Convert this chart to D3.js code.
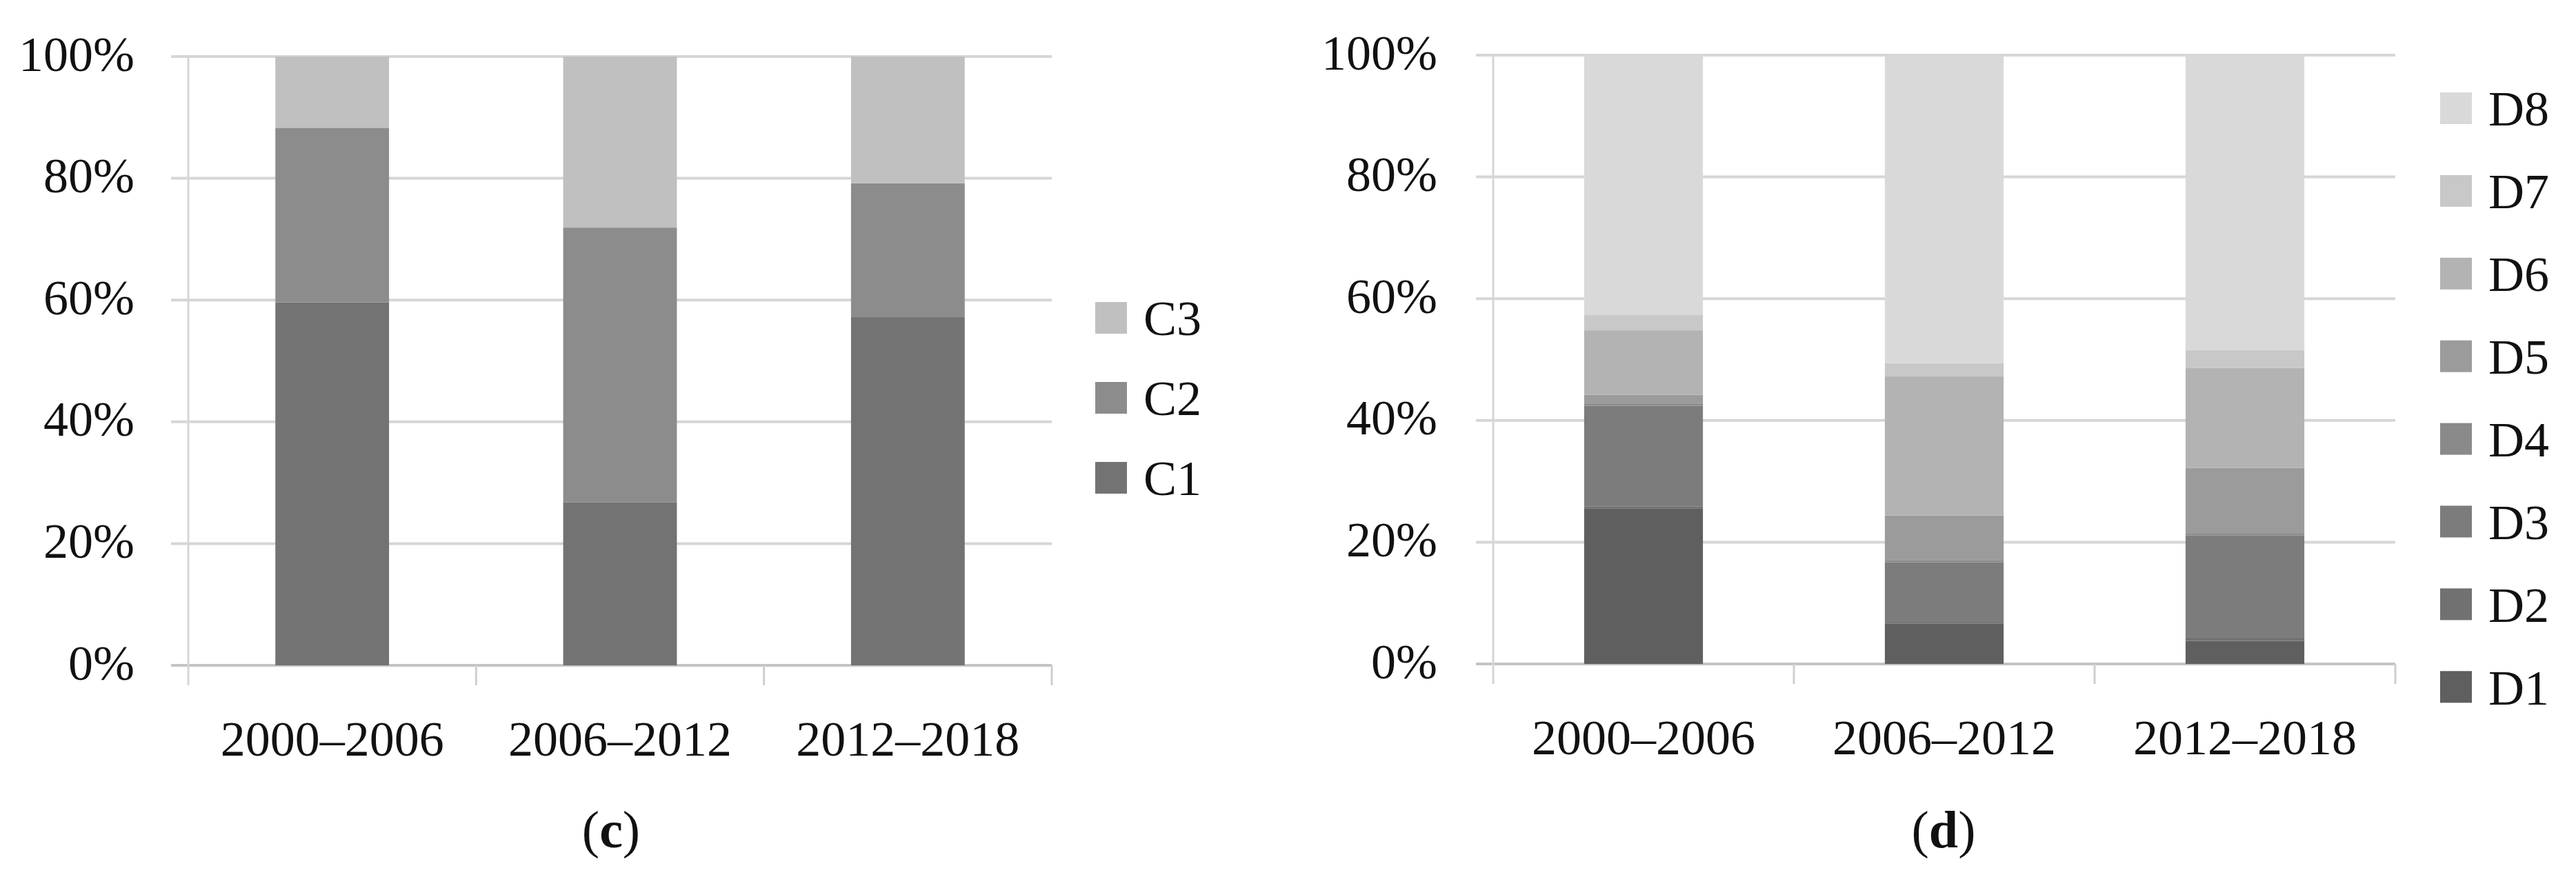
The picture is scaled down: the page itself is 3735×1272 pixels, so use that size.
<!DOCTYPE html>
<html>
<head>
<meta charset="utf-8">
<script src="https://cdn.jsdelivr.net/npm/d3@7"></script>
<style>
  body { margin: 0; background: #fff; }
  text { font-family: "Palatino Linotype", "Book Antiqua", Palatino, "Liberation Serif", serif; fill: #111; }
</style>
</head>
<body>
<div id="chart"></div>
<script>
var svgWidth = 3735;
var svgHeight = 1272;

// periods on the x axis
var periods = ["2000\u20132006", "2006\u20132012", "2012\u20132018"];
var yTicks = [0, 20, 40, 60, 80, 100];

// panel (c), percent per period
var cKeys = ["C1", "C2", "C3"];
var c1 = [59.6, 26.8, 57.2];
var c2 = [28.7, 45.1, 22.0];
var c3 = [11.7, 28.1, 20.8];

// panel (d), percent per period
var dKeys = ["D1", "D2", "D3", "D4", "D5", "D6", "D7", "D8"];
var d1 = [25.5, 6.6, 3.8];
var d2 = [0.4, 0.3, 0.6];
var d3v = [16.5, 9.8, 16.7];
var d4 = [0.3, 0.3, 0.3];
var d5 = [1.5, 7.4, 10.8];
var d6 = [10.6, 22.9, 16.4];
var d7 = [2.5, 2.1, 3.0];
var d8 = [42.7, 50.6, 48.4];

var cColors = ["#737373", "#8c8c8c", "#c0c0c0"];
var dColors = ["#5f5f5f", "#717171", "#7c7c7c", "#8a8a8a", "#9b9b9b", "#b3b3b3", "#c8c8c8", "#d9d9d9"];

var svg = d3.select("#chart")
  .append("svg")
  .attr("width", svgWidth)
  .attr("height", svgHeight);

function buildRows(keys, series) {
  return periods.map(function (p, i) {
    var row = { period: p };
    keys.forEach(function (k, j) { row[k] = series[j][i]; });
    return row;
  });
}

function drawPanel(cfg) {
  var rows = buildRows(cfg.keys, cfg.series);

  var x = d3.scaleBand()
    .domain(periods)
    .range([cfg.left, cfg.right])
    .paddingInner(0)
    .paddingOuter(0);

  var y = d3.scaleLinear()
    .domain([0, 100])
    .range([cfg.bottom, cfg.top]);

  var g = svg.append("g");

  // gridlines
  g.append("g")
    .selectAll("line")
    .data(yTicks)
    .enter()
    .append("line")
    .attr("x1", cfg.left - 25)
    .attr("x2", cfg.right)
    .attr("y1", function (d) { return y(d); })
    .attr("y2", function (d) { return y(d); })
    .attr("stroke", function (d) { return d === 0 ? "#c4c4c4" : "#d6d6d6"; })
    .attr("stroke-width", 4);

  // vertical axis line
  g.append("line")
    .attr("x1", cfg.left).attr("x2", cfg.left)
    .attr("y1", cfg.top).attr("y2", cfg.bottom + 29)
    .attr("stroke", "#d6d6d6")
    .attr("stroke-width", 3);

  // category boundary ticks
  g.append("g")
    .selectAll("line")
    .data(periods.slice(1).map(function (p) { return x(p); }).concat([cfg.right]))
    .enter()
    .append("line")
    .attr("x1", function (d) { return d; })
    .attr("x2", function (d) { return d; })
    .attr("y1", cfg.bottom)
    .attr("y2", cfg.bottom + 29)
    .attr("stroke", "#cfcfcf")
    .attr("stroke-width", 3);

  // y tick labels
  var yAxis = d3.axisLeft(y)
    .tickValues(yTicks)
    .tickSize(0)
    .tickPadding(cfg.labelGap)
    .tickFormat(function (d) { return d + "%"; });

  var yg = g.append("g")
    .attr("transform", "translate(" + cfg.left + ",0)")
    .call(yAxis);
  yg.select(".domain").remove();
  yg.selectAll("text")
    .attr("font-size", 72)
    .attr("dy", "0.28em")
    .style("font-family", "\"Palatino Linotype\", \"Book Antiqua\", Palatino, \"Liberation Serif\", serif")
    .attr("fill", "#111");

  // x labels
  var xAxis = d3.axisBottom(x).tickSize(0).tickPadding(0);
  var xg = g.append("g")
    .attr("transform", "translate(0," + (cfg.bottom + 131) + ")")
    .call(xAxis);
  xg.select(".domain").remove();
  xg.selectAll("text")
    .attr("font-size", 72)
    .attr("dy", 0)
    .attr("y", 0)
    .style("font-family", "\"Palatino Linotype\", \"Book Antiqua\", Palatino, \"Liberation Serif\", serif")
    .attr("fill", "#111");

  // stacked bars
  var stack = d3.stack().keys(cfg.keys);
  var layers = stack(rows);
  var barW = x.bandwidth() * 0.395;

  g.append("g")
    .selectAll("g")
    .data(layers)
    .enter()
    .append("g")
    .attr("fill", function (d, i) { return cfg.colors[i]; })
    .selectAll("rect")
    .data(function (d) { return d; })
    .enter()
    .append("rect")
    .attr("x", function (d) { return x(d.data.period) + (x.bandwidth() - barW) / 2; })
    .attr("y", function (d) { return y(d[1]); })
    .attr("height", function (d) { return y(d[0]) - y(d[1]); })
    .attr("width", barW);

  // legend, last key on top
  var legend = g.append("g");
  var items = cfg.keys.slice().reverse();
  items.forEach(function (k, i) {
    var cy = cfg.legendTop + i * cfg.legendStep;
    var idx = cfg.keys.indexOf(k);
    legend.append("rect")
      .attr("x", cfg.legendX)
      .attr("y", cy - 23)
      .attr("width", 46)
      .attr("height", 46)
      .attr("fill", cfg.colors[idx]);
    legend.append("text")
      .attr("x", cfg.legendX + 70)
      .attr("y", cy)
      .attr("dy", "0.35em")
      .attr("font-size", 72)
      .text(k);
  });

  // panel caption
  var cap = g.append("text")
    .attr("x", cfg.captionX)
    .attr("y", 1229)
    .attr("text-anchor", "middle")
    .attr("font-size", 76);
  cap.append("tspan").text("(");
  cap.append("tspan").attr("font-weight", "bold").text(cfg.caption);
  cap.append("tspan").text(")");
}

drawPanel({
  keys: cKeys,
  series: [c1, c2, c3],
  colors: cColors,
  left: 273, right: 1525, top: 82, bottom: 965,
  labelGap: 78,
  legendX: 1588, legendTop: 461, legendStep: 116,
  caption: "c", captionX: 886
});

drawPanel({
  keys: dKeys,
  series: [d1, d2, d3v, d4, d5, d6, d7, d8],
  colors: dColors,
  left: 2165, right: 3473, top: 80, bottom: 963,
  labelGap: 81,
  legendX: 3538, legendTop: 157, legendStep: 119.9,
  caption: "d", captionX: 2818
});
</script>
</body>
</html>
